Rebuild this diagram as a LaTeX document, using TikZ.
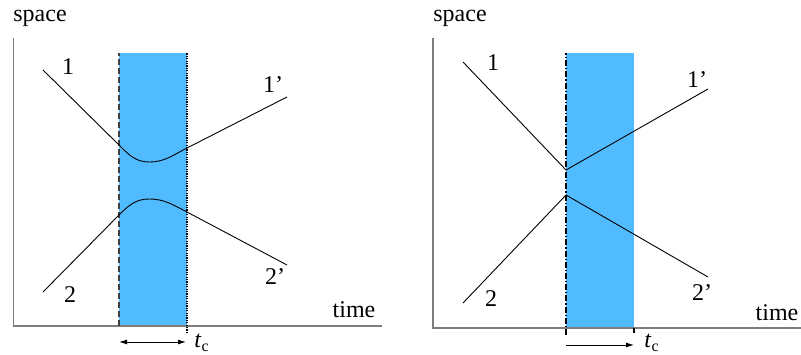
\documentclass[tikz,border=0pt]{standalone}
\usepackage{fontspec}
\setmainfont{Liberation Serif}
\usetikzlibrary{arrows.meta}
\definecolor{bandblue}{RGB}{80,187,255}
\definecolor{axisgray}{RGB}{125,125,125}
\tikzset{
  axis/.style={draw=axisgray,line width=0.8pt},
  track/.style={line width=0.45pt},
  lbl/.style={font=\fontsize{12}{14}\selectfont,inner sep=0pt},
}
\begin{document}
\begin{tikzpicture}[x=0.5pt,y=0.5pt,>={Latex[length=4pt,width=2.5pt]}]
\useasboundingbox (0,0) rectangle (801,354);
% left panel: smooth avoided crossing
\fill[bandblue] (119,28) rectangle (187,301);
\coordinate (lO) at (13.5,28);
\coordinate (lY) at (13.5,316);
\coordinate (lX) at (382,28);
\draw[axis] (lY) -- (lO) -- (lX);
\draw[line width=0.7pt,black!75,dash pattern=on 3pt off 1.5pt] (119,28) -- (119,301);
\draw[line width=0.6pt,dash pattern=on 0.6pt off 0.6pt] (187,21) -- (187,301);
\coordinate (a1) at (43,284);
\coordinate (b1) at (119,209);
\coordinate (m1) at (149,192);
\coordinate (c1) at (187,206);
\coordinate (d1) at (287,257);
\draw[track] (a1) -- (b1) to[out=-45,in=180] (m1) to[out=0,in=207] (c1) -- (d1);
\coordinate (a2) at (43,62);
\coordinate (b2) at (119,139);
\coordinate (m2) at (149,155);
\coordinate (c2) at (187,142);
\coordinate (d2) at (287,89);
\draw[track] (a2) -- (b2) to[out=45,in=180] (m2) to[out=0,in=153] (c2) -- (d2);
\node[lbl] (sp1) at (40,336) {space};
\node[lbl] (tm1) at (354,44) {time};
\node[lbl] (n1) at (68,287) {1};
\node[lbl] (n1p) at (273,269) {1’};
\node[lbl] (n2) at (70,59) {2};
\node[lbl] (n2p) at (275,77) {2’};
\coordinate (tl) at (119,12);
\coordinate (tr) at (186,12);
\draw[<->,track] (tl) -- (tr);
\node[lbl] (tc1) at (202,11) {\textit{t}\textsubscript{c}};
% right panel: sharp crossing
\fill[bandblue] (566,26) rectangle (634,301);
\coordinate (rO) at (433,26);
\coordinate (rY) at (433,316);
\coordinate (rX) at (801,26);
\draw[axis] (rY) -- (rO) -- (rX);
\draw[line width=0.6pt,dash pattern=on 3pt off 1pt on 0.6pt off 1pt] (566,19) -- (566,301);
\draw[line width=0.6pt] (634,21) -- (634,26);
\coordinate (e1) at (463,292);
\coordinate (k1) at (566,184);
\coordinate (f1) at (708,265);
\draw[track] (e1) -- (k1) -- (f1);
\coordinate (e2) at (463,51);
\coordinate (k2) at (566,159);
\coordinate (f2) at (708,77);
\draw[track] (e2) -- (k2) -- (f2);
\node[lbl] (sp2) at (460,336) {space};
\node[lbl] (tm2) at (777,41) {time};
\node[lbl] (r1) at (493,291) {1};
\node[lbl] (r1p) at (697,274) {1’};
\node[lbl] (r2) at (491,55) {2};
\node[lbl] (r2p) at (702,61) {2’};
\coordinate (ul) at (566,9);
\coordinate (ur) at (634,9);
\draw[->,track] (ul) -- (ur);
\node[lbl] (tc2) at (652,11) {\textit{t}\textsubscript{c}};
\end{tikzpicture}
\end{document}
